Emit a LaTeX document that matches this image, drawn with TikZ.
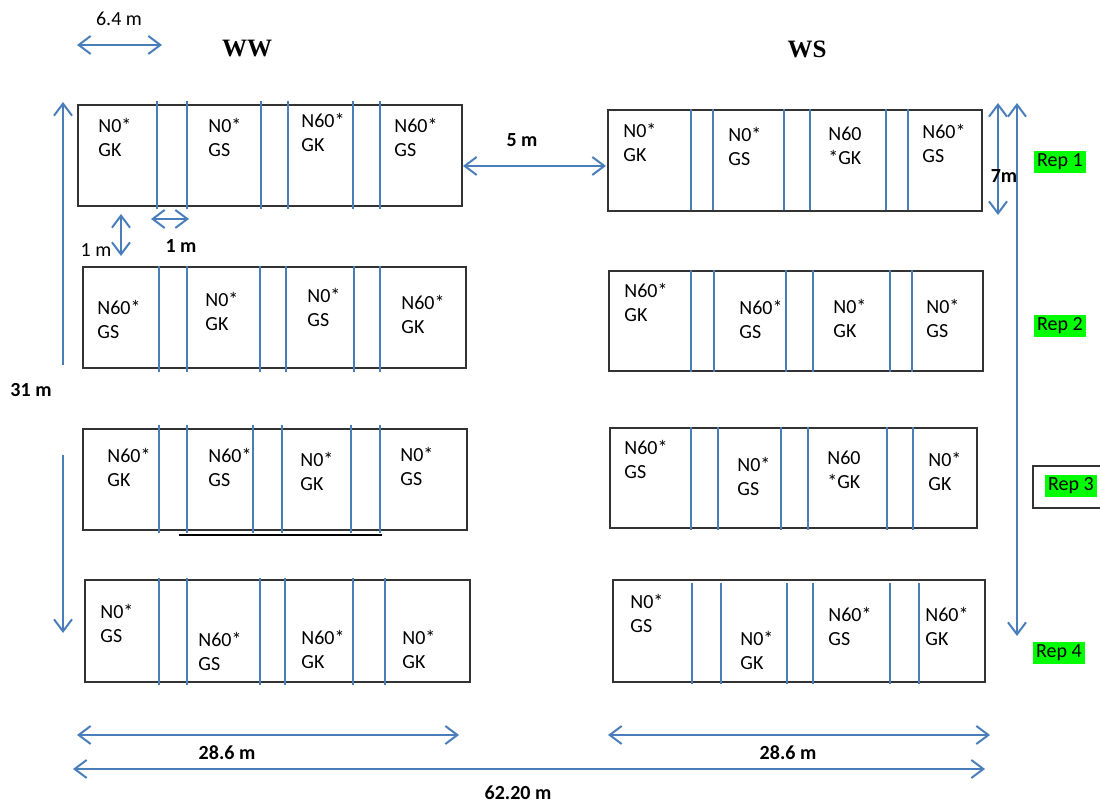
\documentclass[tikz,border=0pt]{standalone}
\usepackage{fontspec}
\setmainfont{Carlito}
\newfontfamily\headfont{Liberation Serif}
\usetikzlibrary{arrows.meta}
\definecolor{lineblue}{HTML}{4A7EBB}
\definecolor{repgreen}{HTML}{00FF00}
\tikzset{
  plotbox/.style={draw=black!80, line width=0.7pt},
  divider/.style={draw=lineblue, line width=0.7pt},
  dim/.style={draw=lineblue, line width=1pt, <->},
  dimend/.style={draw=lineblue, line width=1pt, ->},
  trt/.style={anchor=north west, inner sep=0pt, align=left, font=\fontsize{10}{12}\selectfont},
  size/.style={inner sep=0pt, font=\fontsize{10}{12}\selectfont},
  sizebold/.style={inner sep=0pt, font=\fontsize{10}{12}\selectfont\bfseries},
  heading/.style={inner sep=0pt, font=\headfont\bfseries\fontsize{12.5}{14}\selectfont},
  rep/.style={fill=repgreen, inner sep=1.5pt, font=\fontsize{10}{12}\selectfont},
  >={Straight Barb[length=6pt,width=9pt]}
}
\begin{document}
\begin{tikzpicture}[x=0.5pt,y=-0.5pt]
\useasboundingbox (0,0) rectangle (1100,802);

% headings
\node[heading] (ww) at (247,49) {WW};
\node[heading] (ws) at (807,49) {WS};

% rep 1
\draw[plotbox] (78,105) rectangle (462,206);
\foreach \x in {157,187,261,288,353,380} \draw[divider] (\x,101) -- (\x,209);
\foreach \x/\y/\t [count=\i] in {98/118/{N0*\\GK}, 208/118/{N0*\\GS}, 301/113/{N60*\\GK}, 394/118/{N60*\\GS}}
  \node[trt] (wwa\i) at (\x,\y) {\t};
\draw[plotbox] (608,110) rectangle (982,211);
\foreach \x in {691,713,784,810,886,908} \draw[divider] (\x,109) -- (\x,210);
\foreach \x/\y/\t [count=\i] in {623/123/{N0*\\GK}, 728/127/{N0*\\GS}, 828/127/{N60\\*GK}, 922/124/{N60*\\GS}}
  \node[trt] (wsa\i) at (\x,\y) {\t};

% rep 2
\draw[plotbox] (83,267) rectangle (466,368);
\foreach \x in {159,187,260,286,354,380} \draw[divider] (\x,266) -- (\x,372);
\foreach \x/\y/\t [count=\i] in {97/300/{N60*\\GS}, 205/292/{N0*\\GK}, 307/288/{N0*\\GS}, 401/295/{N60*\\GK}}
  \node[trt] (wwb\i) at (\x,\y) {\t};
\draw[plotbox] (609,271) rectangle (983,371);
\foreach \x in {691,714,786,813,890,912} \draw[divider] (\x,270) -- (\x,372);
\foreach \x/\y/\t [count=\i] in {624/283/{N60*\\GK}, 739/300/{N60*\\GS}, 833/299/{N0*\\GK}, 926/299/{N0*\\GS}}
  \node[trt] (wsb\i) at (\x,\y) {\t};

% rep 3
\draw[plotbox] (83,429) rectangle (467,530);
\foreach \x in {159,187,253,282,351,380} \draw[divider] (\x,425) -- (\x,533);
\draw[line width=1.2pt] (179,535) -- (382,535);
\foreach \x/\y/\t [count=\i] in {107/448/{N60*\\GK}, 208/448/{N60*\\GS}, 300/452/{N0*\\GK}, 400/447/{N0*\\GS}}
  \node[trt] (wwc\i) at (\x,\y) {\t};
\draw[plotbox] (610,428) rectangle (977,528);
\foreach \x in {691,718,781,808,887,913} \draw[divider] (\x,427) -- (\x,530);
\foreach \x/\y/\t [count=\i] in {624/440/{N60*\\GS}, 737/457/{N0*\\GS}, 827/451/{N60\\*GK}, 928/452/{N0*\\GK}}
  \node[trt] (wsc\i) at (\x,\y) {\t};

% rep 4
\draw[plotbox] (85,580) rectangle (470,682);
\foreach \x in {159,187,260,285,353,385} \draw[divider] (\x,578) -- (\x,685);
\foreach \x/\y/\t [count=\i] in {100/604/{N0*\\GS}, 198/632/{N60*\\GS}, 301/630/{N60*\\GK}, 402/630/{N0*\\GK}}
  \node[trt] (wwd\i) at (\x,\y) {\t};
\draw[plotbox] (613,580) rectangle (985,682);
\foreach \x in {692,721,787,813,890,919} \draw[divider] (\x,583) -- (\x,684);
\foreach \x/\y/\t [count=\i] in {630/594/{N0*\\GS}, 740/631/{N0*\\GK}, 828/607/{N60*\\GS}, 925/607/{N60*\\GK}}
  \node[trt] (wsd\i) at (\x,\y) {\t};

% rep labels
\node[rep] (rep1) at (1060,162) {Rep 1};
\node[rep] (rep2) at (1060,326) {Rep 2};
\node[rep] (rep3) at (1071,486) {Rep 3};
\draw[draw=black!80, line width=0.6pt] (1100,466) -| (1033,508) -- (1100,508);
\node[rep] (rep4) at (1059,653) {Rep 4};

% dimensions
\coordinate (pw1) at (77,45);   \coordinate (pw2) at (162,45);
\draw[dim] (pw1) -- (pw2);
\node[size] (pwl) at (119,19) {6.4 m};
\coordinate (gv1) at (121,214); \coordinate (gv2) at (121,256);
\draw[dim] (gv1) -- (gv2);
\node[size] (gvl) at (96,250) {1 m};
\coordinate (gh1) at (151,219); \coordinate (gh2) at (189,219);
\draw[dim] (gh1) -- (gh2);
\node[sizebold] (ghl) at (181,246) {1 m};
\coordinate (ga1) at (463,166); \coordinate (ga2) at (606,166);
\draw[dim] (ga1) -- (ga2);
\node[sizebold] (gal) at (522,140) {5 m};
\coordinate (ln1) at (63,365);  \coordinate (ln2) at (63,102);
\coordinate (ln3) at (63,455);  \coordinate (ln4) at (63,633);
\draw[dimend] (ln1) -- (ln2);
\draw[dimend] (ln3) -- (ln4);
\node[sizebold] (lnl) at (31,390) {31 m};
\coordinate (pl1) at (998,103); \coordinate (pl2) at (998,215);
\draw[dim] (pl1) -- (pl2);
\node[sizebold] (pll) at (1004,176) {7m};
\coordinate (rp1) at (1017,103); \coordinate (rp2) at (1017,636);
\draw[dim] (rp1) -- (rp2);
\coordinate (bw1) at (77,735);  \coordinate (bw2) at (459,735);
\draw[dim] (bw1) -- (bw2);
\node[sizebold] (bwl) at (227,753) {28.6 m};
\coordinate (bs1) at (608,735); \coordinate (bs2) at (990,735);
\draw[dim] (bs1) -- (bs2);
\node[sizebold] (bsl) at (788,753) {28.6 m};
\coordinate (tt1) at (73,769);  \coordinate (tt2) at (985,769);
\draw[dim] (tt1) -- (tt2);
\node[sizebold] (ttl) at (518,793) {62.20 m};
\end{tikzpicture}
\end{document}
